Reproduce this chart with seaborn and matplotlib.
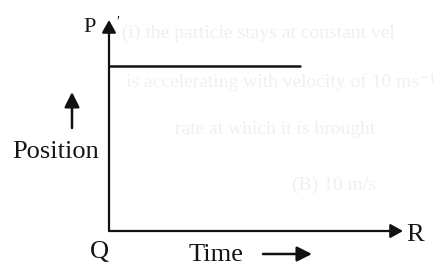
import matplotlib
matplotlib.use("Agg")
import matplotlib.pyplot as plt
import seaborn as sns
import pandas as pd

# Data (position stays constant over time)
time = [0.0, 6.5]
position = [7.8, 7.8]
axis_labels = {"origin": "Q", "y_end": "P", "x_end": "R"}
x_title = "Time"
y_title = "Position"
bleed_text = [
    "(i) the particle stays at constant vel",
    "is accelerating with velocity of 10 ms\u207b\u00b9",
    "rate at which it is brought",
    "(B) 10 m/s",
]

sns.set_theme(style="white")
plt.rcParams["font.family"] = ["Liberation Serif", "DejaVu Serif"]

W, H = 448, 275
fig = plt.figure(figsize=(W / 100, H / 100), dpi=100)
fig.patch.set_facecolor("white")

def fx(px):
    return px / W

def fy(py):
    return 1 - py / H

# faint bleed-through text from the scanned page
for txt, (px, py) in zip(bleed_text, [(122, 33), (126, 82), (175, 130), (292, 185)]):
    fig.text(fx(px), fy(py), txt, color="#f0f0f0", fontsize=14, va="center",
             ha="left", zorder=0)

ox, oy = 109, 231   # origin in pixels
tx, ty = 403, 20    # axis arrow tips
ax = fig.add_axes([fx(ox), fy(oy), (tx - ox) / W, (oy - ty) / H])
ax.set_facecolor("none")
ax.set_xlim(0, 10)
ax.set_ylim(0, 10)
for s in ax.spines.values():
    s.set_visible(False)
ax.set_xticks([])
ax.set_yticks([])

df = pd.DataFrame({"Time": time, "Position": position})
sns.lineplot(data=df, x="Time", y="Position", ax=ax, color="#111111",
             linewidth=1.8, legend=False)
ax.set_xlabel("")
ax.set_ylabel("")

arrow_kw = dict(arrowstyle="-|>,head_length=0.75,head_width=0.42",
                lw=1.6, color="#111111", shrinkA=0, shrinkB=0,
                mutation_scale=10)
ax.annotate("", xy=(1, 0), xytext=(0, 0), xycoords="axes fraction",
            textcoords="axes fraction", arrowprops=arrow_kw, annotation_clip=False)
ax.annotate("", xy=(0, 1), xytext=(0, 0), xycoords="axes fraction",
            textcoords="axes fraction", arrowprops=arrow_kw, annotation_clip=False)

tc = "#151515"
fig.text(fx(90), fy(28), axis_labels["y_end"], fontsize=16, color=tc,
         ha="center", va="center")
fig.text(fx(118), fy(22), "\u2032", fontsize=10, color=tc, ha="center", va="center")
fig.text(fx(99), fy(252), axis_labels["origin"], fontsize=19, color=tc,
         ha="center", va="center")
fig.text(fx(415), fy(235), axis_labels["x_end"], fontsize=19, color=tc,
         ha="center", va="center")
fig.text(fx(216), fy(255), x_title, fontsize=19, color=tc, ha="center", va="center")
fig.text(fx(56), fy(152), y_title, fontsize=19, color=tc, ha="center", va="center")

small_kw = dict(arrowstyle="-|>,head_length=0.9,head_width=0.45",
                lw=1.8, color="#111111", shrinkA=0, shrinkB=0, mutation_scale=10)
fig.add_artist(matplotlib.patches.FancyArrowPatch(
    (fx(72), fy(128)), (fx(72), fy(92)), transform=fig.transFigure, **small_kw))
fig.add_artist(matplotlib.patches.FancyArrowPatch(
    (fx(263), fy(254)), (fx(312), fy(254)), transform=fig.transFigure, **small_kw))

fig.savefig("out.png", dpi=100, facecolor="white")
